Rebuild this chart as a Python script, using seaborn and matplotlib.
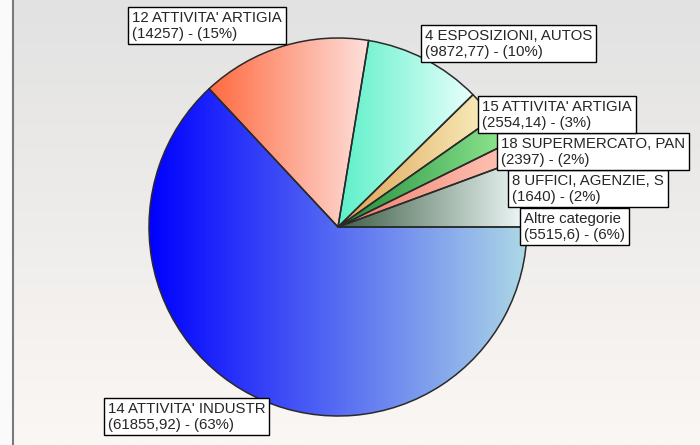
import numpy as np
import seaborn as sns
import matplotlib.pyplot as plt

# dati della torta (ordine antiorario partendo da ore 3)
categorie = ["Altre categorie", "8 UFFICI, AGENZIE, S", "18 SUPERMERCATO, PAN",
             "15 ATTIVITA' ARTIGIA", "4 ESPOSIZIONI, AUTOS", "12 ATTIVITA' ARTIGIA",
             "14 ATTIVITA' INDUSTR"]
valori = [5515.6, 1640, 2397, 2554.14, 9872.77, 14257, 61855.92]

# colori sfumati (sinistra -> destra)
colori_sx = ["#3d5e45", "#f07a6a", "#1e8a3a", "#e0a050", "#5cf0c8", "#ff6a40", "#0000ff"]
colori_dx = ["#f0fafa", "#ffc8b8", "#90e890", "#f8f0c0", "#e8fffc", "#fde0dc", "#add8e6"]

# angolo in alto a sinistra dei riquadri etichetta (pixel)
pos_etichette = [(520, 209), (508, 171), (497, 134), (478, 97), (421, 26), (128, 8), (104, 399)]

sns.set_style("white")
plt.rcParams["font.family"] = ["Liberation Sans", "DejaVu Sans"]

W, H = 700, 445
fig = plt.figure(figsize=(7, 4.45), dpi=100)
fig.patch.set_facecolor("#fafafa")
ax = fig.add_axes([0, 0, 1, 1])

# sfondo a gradiente verticale
bg = sns.blend_palette(["#fbf7f4", "#e2e2e2"], as_cmap=True)
ax.imshow(np.linspace(0, 1, 256).reshape(-1, 1)[::-1], cmap=bg, aspect="auto",
          extent=(13, W, 0, H), zorder=0)
ax.plot([12.5, 12.5], [0, H], color="#7a7a7a", lw=1.5, zorder=0.5)

centro = (338, H - 227)
wedges, _ = ax.pie(valori, startangle=0, counterclock=True, radius=189, center=centro,
                   wedgeprops=dict(edgecolor="#2a2a2a", linewidth=1.1))

for w, c1, c2 in zip(wedges, colori_sx, colori_dx):
    w.set_facecolor("none")
    w.set_zorder(2)
    ext = w.get_path().get_extents()
    cmap = sns.blend_palette([c1, c2], as_cmap=True)
    im = ax.imshow(np.linspace(0, 1, 256).reshape(1, -1), cmap=cmap, aspect="auto",
                   extent=(ext.x0, ext.x1, ext.y0, ext.y1), zorder=1.5)
    im.set_clip_path(w)

totale = sum(valori)


def fmt(v):
    return ("%f" % v).rstrip("0").rstrip(".").replace(".", ",")


for nome, v, (x, y) in zip(categorie, valori, pos_etichette):
    pct = round(v / totale * 100)
    ax.text(x + 4, H - y - 3, f"{nome}\n({fmt(v)}) - ({pct}%)", ha="left", va="top",
            fontsize=10.8, linespacing=1.15, zorder=5,
            bbox=dict(boxstyle="square,pad=0.25", fc="white", ec="black", lw=1))

ax.set_xlim(0, W)
ax.set_ylim(0, H)
ax.set_axis_off()
fig.savefig("out.png", dpi=100, facecolor=fig.get_facecolor())
